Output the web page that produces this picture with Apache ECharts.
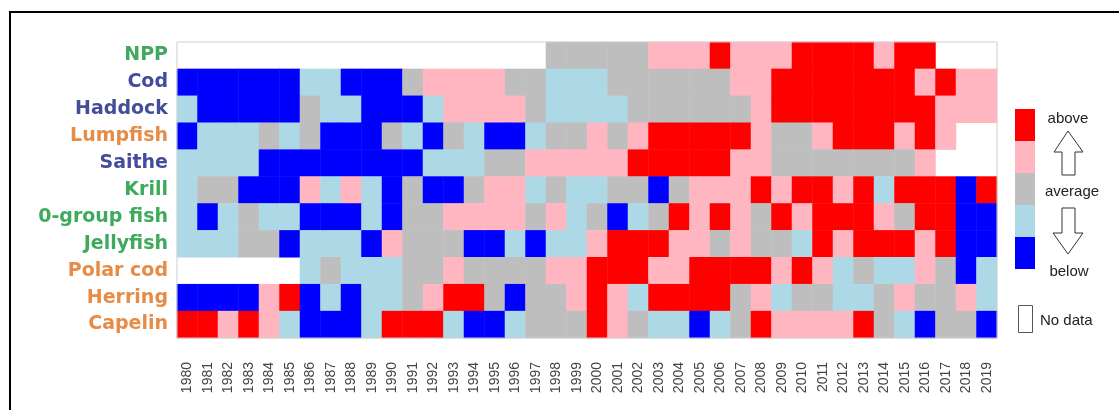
<!DOCTYPE html>
<html>
	<head>
		<meta charset="utf-8">
		<title></title>
		<script src="https://cdn.jsdelivr.net/npm/echarts@6/dist/echarts.min.js"></script>
		<style>
			html, body { margin: 0; padding: 0; background: #fff; }
		</style>
	</head>
	<body>
		<div id="myChart" style="width: 1119px;height:410px;"></div>
	</body>
	<script type="text/javascript">
	// 1 = below ... 3 = average ... 5 = above, null = no data
	var years = [];
	for (var y = 1980; y <= 2019; y++) years.push(String(y));

	var species = ['NPP', 'Cod', 'Haddock', 'Lumpfish', 'Saithe', 'Krill', '0-group fish', 'Jellyfish', 'Polar cod', 'Herring', 'Capelin'];
	var labelColors = ['#3daa5c', '#434d9c', '#434d9c', '#e68c46', '#434d9c', '#3daa5c', '#3daa5c', '#3daa5c', '#e68c46', '#e68c46', '#e68c46'];

	var _ = null;
	var npp       = [_,_,_,_,_,_,_,_,_,_,_,_,_,_,_,_,_,_,3,3,3,3,3,4,4,4,5,4,4,4,5,5,5,5,4,5,5,_,_,_];
	var cod       = [1,1,1,1,1,1,2,2,1,1,1,3,4,4,4,4,3,3,2,2,2,3,3,3,3,3,3,4,4,5,5,5,5,5,5,5,4,5,4,4];
	var haddock   = [2,1,1,1,1,1,3,2,2,1,1,1,2,4,4,4,4,3,2,2,2,2,3,3,3,3,3,3,4,5,5,5,5,5,5,5,5,4,4,4];
	var lumpfish  = [1,2,2,2,3,2,3,1,1,1,3,2,1,3,2,1,1,2,3,3,4,3,4,5,5,5,5,5,4,3,3,4,5,5,5,4,5,4,_,_];
	var saithe    = [2,2,2,2,1,1,1,1,1,1,1,1,2,2,2,3,3,4,4,4,4,4,5,5,5,5,5,4,4,3,3,3,3,3,3,3,4,_,_,_];
	var krill     = [2,3,3,1,1,1,4,2,4,2,1,3,1,1,3,4,4,2,3,2,2,3,3,1,3,4,4,4,5,4,5,5,4,5,2,5,5,5,1,5];
	var group0    = [2,1,2,3,2,2,1,1,1,2,1,3,3,4,4,4,4,3,4,2,3,1,2,3,5,4,5,4,3,5,4,5,5,5,4,3,5,5,1,1];
	var jellyfish = [2,2,2,3,3,1,2,2,2,1,4,3,3,3,1,1,2,1,2,2,4,5,5,5,4,4,3,4,3,3,2,5,4,5,5,5,4,5,1,1];
	var polarCod  = [_,_,_,_,_,_,2,3,2,2,2,3,3,4,3,3,3,3,4,4,5,5,5,4,4,5,5,5,5,4,5,4,2,3,2,2,4,3,1,2];
	var herring   = [1,1,1,1,4,5,1,2,1,2,2,3,4,5,5,3,1,3,3,4,5,4,2,5,5,5,5,3,4,2,3,3,2,2,3,4,3,3,4,2];
	var capelin   = [5,5,4,5,4,2,1,1,1,2,5,5,5,2,1,1,2,3,3,3,5,4,3,2,2,1,2,3,5,4,4,4,4,5,3,2,1,3,3,1];

	var rows = [npp, cod, haddock, lumpfish, saithe, krill, group0, jellyfish, polarCod, herring, capelin];
	var levelColors = ['#0000ff', '#add8e6', '#bebebe', '#ffb6c1', '#ff0000'];

	var cells = [];
	rows.forEach(function (row, j) {
		row.forEach(function (v, i) {
			if (v !== null) cells.push([i, j, v]);
		});
	});

	var chartDom = document.getElementById('myChart');
	var myChart = echarts.init(chartDom);
	var option;

	var lx = 1015, ly = 109, lh = 32;
	var legendGfx = [];
	// colour key, red at top
	for (var k = 0; k < 5; k++) {
		legendGfx.push({
			type: 'rect',
			shape: { x: lx, y: ly + k * lh, width: 20, height: lh },
			style: { fill: levelColors[4 - k] }
		});
	}
	var txt = { fontFamily: 'Liberation Sans', fontSize: 15, fill: '#222', align: 'center', verticalAlign: 'middle' };
	legendGfx.push(
		{ type: 'text', style: Object.assign({ x: 1068, y: 119, text: 'above' }, txt) },
		{ type: 'text', style: Object.assign({ x: 1072, y: 192, text: 'average' }, txt) },
		{ type: 'text', style: Object.assign({ x: 1069, y: 272, text: 'below' }, txt) },
		{
			type: 'polygon',
			shape: { points: [[1068, 131], [1083, 152], [1075, 152], [1075, 175], [1062, 175], [1062, 152], [1054, 152]] },
			style: { fill: '#fff', stroke: '#333', lineWidth: 1 }
		},
		{
			type: 'polygon',
			shape: { points: [[1062, 208], [1075, 208], [1075, 233], [1083, 233], [1068, 254], [1053, 233], [1062, 233]] },
			style: { fill: '#fff', stroke: '#333', lineWidth: 1 }
		},
		{
			type: 'rect',
			shape: { x: 1018.5, y: 305.5, width: 14, height: 27 },
			style: { fill: '#fff', stroke: '#555', lineWidth: 1 }
		},
		{ type: 'text', style: { x: 1040, y: 321, text: 'No data', fontFamily: 'Liberation Sans', fontSize: 15, fill: '#222', verticalAlign: 'middle' } },
		// outer frame
		{
			type: 'polyline',
			shape: { points: [[10, 412], [10, 12], [1121, 12]] },
			style: { stroke: '#000', lineWidth: 2, fill: null }
		}
	);

	option = {
		backgroundColor: '#fff',
		animation: false,
		grid: {
			left: 177,
			top: 42,
			width: 820,
			height: 296,
			show: true,
			borderColor: '#cfcfcf',
			borderWidth: 1,
			z: 3
		},
		xAxis: {
			type: 'category',
			data: years,
			axisLine: { show: false },
			axisTick: { show: false },
			splitLine: { show: false },
			axisLabel: {
				rotate: 90,
				interval: 0,
				margin: 24,
				fontFamily: 'Liberation Sans',
				fontSize: 14,
				color: '#444'
			}
		},
		yAxis: {
			type: 'category',
			data: species,
			inverse: true,
			axisLine: { show: false },
			axisTick: { show: false },
			splitLine: { show: false },
			axisLabel: {
				margin: 9,
				fontFamily: 'DejaVu Sans',
				fontWeight: 'bold',
				fontSize: 19,
				color: function (value, index) {
					return labelColors[index];
				}
			}
		},
		visualMap: {
			type: 'piecewise',
			show: false,
			dimension: 2,
			pieces: [
				{ value: 1, color: levelColors[0] },
				{ value: 2, color: levelColors[1] },
				{ value: 3, color: levelColors[2] },
				{ value: 4, color: levelColors[3] },
				{ value: 5, color: levelColors[4] }
			]
		},
		graphic: legendGfx,
		series: [
			{
				type: 'heatmap',
				data: cells,
				itemStyle: { borderWidth: 0 },
				emphasis: { disabled: true }
			}
		]
	};

	option && myChart.setOption(option);
	</script>
</html>
